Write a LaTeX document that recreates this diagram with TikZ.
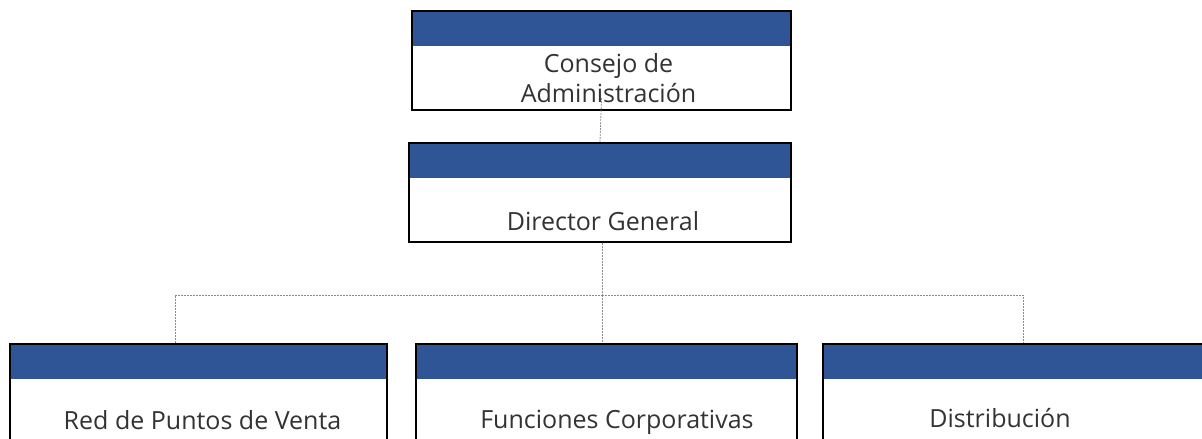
\documentclass[tikz,border=0pt]{standalone}
\usepackage{fontspec}
\setmainfont{Open Sans}
\definecolor{band}{HTML}{2F5597}
\definecolor{txt}{HTML}{333333}
\definecolor{conn}{HTML}{8C8C8C}
\begin{document}
\begin{tikzpicture}[x=1pt,y=-1pt,
  orgbox/.style={draw=black,line width=2.2pt,fill=white,inner sep=0pt,
    path picture={\fill[band] (path picture bounding box.north west) rectangle ([yshift=-35pt]path picture bounding box.north east);}},
  lbl/.style={anchor=base,inner sep=0pt,text=txt,font=\fontsize{25}{30}\selectfont},
  conline/.style={draw=conn,line width=0.8pt,dash pattern=on 2pt off 1pt}]
\useasboundingbox (0,0) rectangle (1202,439);
\node[orgbox,minimum width=379pt,minimum height=99pt] (cons) at (601.5,60.5) {};
\node[orgbox,minimum width=382pt,minimum height=99pt] (dir) at (600,192.5) {};
\node[orgbox,minimum width=377pt,minimum height=140pt] (red) at (198.5,414) {};
\node[orgbox,minimum width=381pt,minimum height=140pt] (fun) at (606.5,414) {};
\node[orgbox,minimum width=388pt,minimum height=140pt] (dis) at (1017,414) {};
\coordinate (j) at (602,295);
\draw[conline] ([yshift=13pt]cons.south) -- (dir.north);
\draw[conline] (dir.south -| j) -- (j);
\draw[conline] (j) -- (fun.north -| j);
\draw[conline] ([xshift=-23.5pt]red.north) |- (j);
\draw[conline] (j) -| ([xshift=6pt]dis.north);
\node[lbl] (t1) at (608.5,72) {Consejo de};
\node[lbl] (t2) at (608.5,102) {Administración};
\node[lbl] (t3) at (603,230) {Director General};
\node[lbl] (t4) at (202.5,429) {Red de Puntos de Venta};
\node[lbl] (t5) at (617,428) {Funciones Corporativas};
\node[lbl] (t6) at (1000,427) {Distribución};
\end{tikzpicture}
\end{document}
